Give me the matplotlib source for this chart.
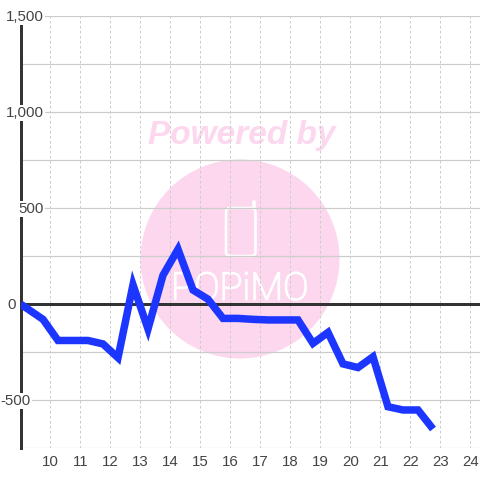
import matplotlib
matplotlib.use("Agg")
import matplotlib.pyplot as plt
import matplotlib.patheffects as pe
from matplotlib.patches import Circle, FancyBboxPatch

# data
hours = [9.0, 9.75, 10.25, 10.75, 11.25, 11.75, 12.25, 12.75, 13.25, 13.75, 14.25,
         14.75, 15.25, 15.75, 16.25, 16.75, 17.25, 17.75, 18.25, 18.75, 19.25,
         19.75, 20.25, 20.75, 21.25, 21.75, 22.25, 22.75]
values = [0, -80, -190, -190, -190, -208, -280, 100, -130, 150, 285,
          73, 25, -75, -75, -80, -83, -83, -83, -205, -148,
          -312, -331, -275, -535, -552, -552, -651]
x_ticks = list(range(10, 25))
y_major = [-500, 0, 500, 1000, 1500]
y_minor = [-750, -250, 250, 750, 1250]
y_labels = ["-500", "0", "500", "1,000", "1,500"]
y_label_right = [31, 16, 44, 44, 44]  # right edge of each label, px

plt.rcParams["font.family"] = ["Liberation Sans", "DejaVu Sans"]
px = 0.72  # one pixel in points at dpi 100
text_col = "#444444"
grid_col = "#cccccc"
dark = "#333333"
pink = "#fcd7ee"

fig = plt.figure(figsize=(4.8, 4.8), dpi=100, facecolor="white")

# watermark layer in pixel coordinates
bg = fig.add_axes([0, 0, 1, 1], zorder=0)
bg.set_xlim(0, 480)
bg.set_ylim(480, 0)
bg.axis("off")
bg.add_patch(Circle((240, 259), 99.5, fc=pink, ec="none"))
bg.text(242, 135.5, "Powered by", color=pink, fontsize=24, fontweight="bold",
        style="italic", ha="center", va="center")
bg.add_patch(FancyBboxPatch((226, 208), 29.5, 48, boxstyle="round,pad=0,rounding_size=4",
                            fc="none", ec="white", lw=2.6 * px))
bg.plot([254, 254], [208, 202], color="white", lw=3.6 * px, solid_capstyle="round")
bg.text(240, 289, "POPiMO", color="white", fontsize=27.5, family="Roboto", fontweight=100,
        ha="center", va="center",
        path_effects=[pe.withStroke(linewidth=1.6 * px, foreground="white")])

ax = fig.add_axes([20.5 / 480, 32 / 480, 459.5 / 480, 432 / 480], zorder=1)
ax.patch.set_alpha(0)
ax.set_xlim(9, 24.317)
ax.set_ylim(-750, 1500)

for s in ["top", "right", "bottom"]:
    ax.spines[s].set_visible(False)
ax.spines["left"].set_color(dark)
ax.spines["left"].set_linewidth(3 * px)

ax.set_xticks(x_ticks)
ax.set_xticklabels([str(t) for t in x_ticks], fontsize=10.8, color=text_col)
ax.set_yticks(y_major + y_minor)
ax.set_yticklabels([])
ax.tick_params(length=0)
ax.tick_params(axis="x", pad=5)
ax.grid(axis="y", color=grid_col, lw=1.2 * px)
ax.grid(axis="x", color=grid_col, lw=1 * px, linestyle=(0, (2.6, 2.4)))
ax.set_axisbelow(True)

ax.axhline(0, color=dark, lw=3 * px, zorder=2)
ax.plot(hours, values, color="#1c36ff", lw=7.5 * px, zorder=3,
        solid_joinstyle="miter", solid_capstyle="butt")

# y labels sit on a white box that hides the axis line behind them
for val, lab, right in zip(y_major, y_labels, y_label_right):
    ax.annotate(lab, xy=(0, val), xycoords=("axes fraction", "data"),
                xytext=((right - 20.5) * px, -1 * px), textcoords="offset points",
                ha="right", va="center", fontsize=10.8, color=text_col, zorder=6,
                annotation_clip=False,
                bbox=dict(fc="white", ec="none", pad=1))

fig.savefig("out.png", dpi=100)
